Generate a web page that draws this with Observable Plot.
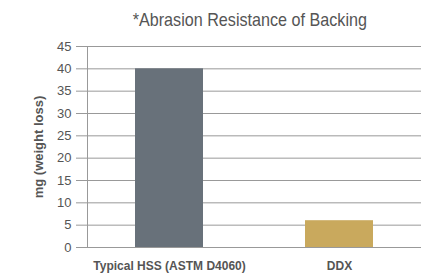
<!DOCTYPE html>
<html>
<head>
<meta charset="utf-8">
<script src="https://cdn.jsdelivr.net/npm/d3@7"></script>
<script src="https://cdn.jsdelivr.net/npm/@observablehq/plot@0.6"></script>
<style>
  body { margin: 0; background: #fff; }
  #title { height: 36px; line-height: 40px; text-align: center; padding-left: 65px; }
  #title span { display: inline-block; font-family: "Liberation Sans", Arial, sans-serif; font-size: 19px; color: #555; transform: scaleX(0.85); }
</style>
</head>
<body>
<div id="title"><span>*Abrasion Resistance of Backing</span></div>
<div id="chart"></div>
<script>
const categories = ["Typical HSS (ASTM D4060)", "DDX"];
const values = [40, 6];
const colors = ["#68717a", "#c9a95d"];
const yTicks = [0, 5, 10, 15, 20, 25, 30, 35, 40, 45];

const data = categories.map((c, i) => ({category: c, value: values[i], color: colors[i]}));

const chart = Plot.plot({
  width: 435,
  height: 243,
  marginTop: 10,
  marginBottom: 32,
  marginLeft: 87,
  marginRight: 14,
  style: {fontFamily: "'Liberation Sans', Arial, sans-serif", fontSize: "12px", color: "#555"},
  x: {domain: categories, paddingInner: 0.6, paddingOuter: 0.28},
  y: {domain: [0, 45]},
  marks: [
    Plot.gridY(yTicks, {stroke: "#999", strokeOpacity: 1, strokeWidth: 1}),
    Plot.axisY(yTicks, {tickSize: 11, tickPadding: 5, stroke: "#999", fontSize: 13, fill: "#555",
      label: "mg (weight loss)", labelAnchor: "center", labelOffset: 54, labelArrow: "none"}),
    Plot.frame({anchor: "left", stroke: "#999"}),
    Plot.barY(data, {x: "category", y: "value", fill: "color"}),
    Plot.axisX({tickSize: 0, tickPadding: 14, fontSize: 12, fontWeight: "bold", fill: "#555", label: null})
  ]
});
chart.querySelectorAll("g[aria-label='y-axis label'] text, g[aria-label='y-axis label']").forEach(e => e.setAttribute("font-weight", "bold"));
document.getElementById("chart").appendChild(chart);
</script>
</body>
</html>
